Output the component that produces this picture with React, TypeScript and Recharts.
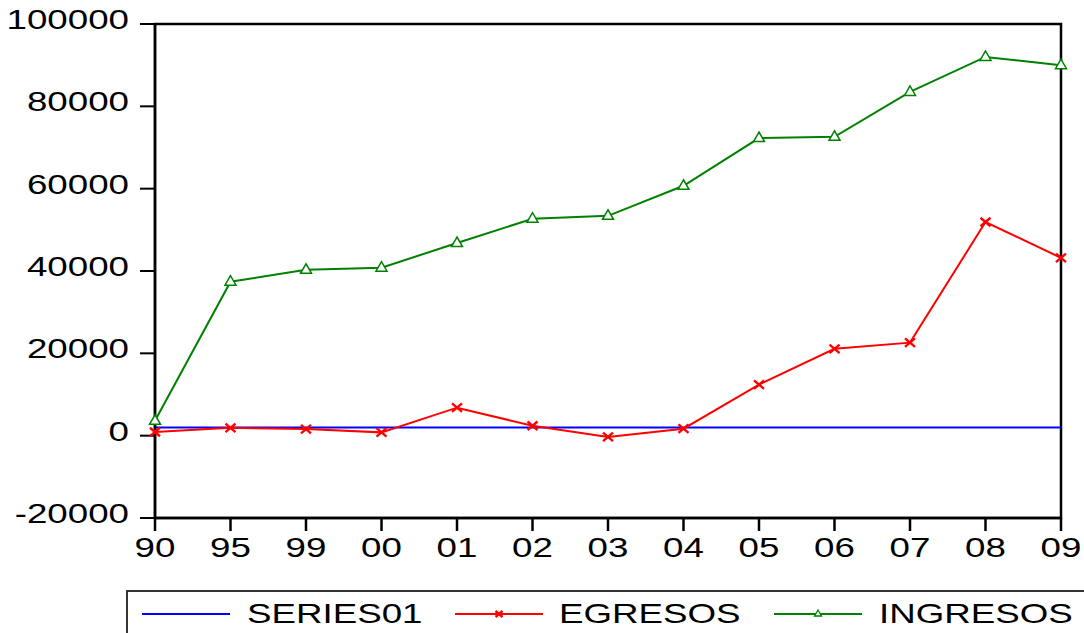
import React from 'react';
import { LineChart, Line, XAxis, YAxis, ReferenceArea } from 'recharts';

const categories = ['90', '95', '99', '00', '01', '02', '03', '04', '05', '06', '07', '08', '09'];
const series01 = [2000, 2000, 2000, 2000, 2000, 2000, 2000, 2000, 2000, 2000, 2000, 2000, 2000];
const egresos = [900, 1900, 1600, 800, 6800, 2400, -300, 1700, 12400, 21100, 22600, 51900, 43200];
const ingresos = [3600, 37400, 40300, 40800, 46800, 52700, 53400, 60700, 72300, 72600, 83500, 92000, 90000];
const yTicks = [-20000, 0, 20000, 40000, 60000, 80000, 100000];
const seriesNames = ['SERIES01', 'EGRESOS', 'INGRESOS'];

const data = categories.map((c, i) => ({
  cat: c,
  SERIES01: series01[i],
  EGRESOS: egresos[i],
  INGRESOS: ingresos[i],
}));

const FONT = '"Liberation Sans", Arial, sans-serif';
const SX = 1.36;
const FS = 27;

const XTick = (props: any) => {
  const { x, y, payload } = props;
  return (
    <text
      transform={`translate(${x},${y + 26}) scale(${SX},1)`}
      textAnchor="middle"
      fontFamily={FONT}
      fontSize={FS}
      fill="#000"
    >
      {payload.value}
    </text>
  );
};

const YTick = (props: any) => {
  const { x, y, payload } = props;
  return (
    <text
      transform={`translate(${x - 11},${y + 5}) scale(${SX},1)`}
      textAnchor="end"
      fontFamily={FONT}
      fontSize={FS}
      fill="#000"
    >
      {payload.value}
    </text>
  );
};

const CrossMark = ({ cx, cy, color, s = 5 }: any) => (
  <g>
    <line x1={cx - s} y1={cy - s * 0.85} x2={cx + s} y2={cy + s * 0.85} stroke={color} strokeWidth={2.4} />
    <line x1={cx - s} y1={cy + s * 0.85} x2={cx + s} y2={cy - s * 0.85} stroke={color} strokeWidth={2.4} />
  </g>
);

const TriMark = ({ cx, cy, color }: any) => (
  <polygon
    points={`${cx},${cy - 6} ${cx - 5.5},${cy + 3.5} ${cx + 5.5},${cy + 3.5}`}
    fill="#fff"
    stroke={color}
    strokeWidth={1.5}
  />
);

const crossDot = (props: any) => {
  const { cx, cy, index } = props;
  return <CrossMark key={`x-${index}`} cx={cx} cy={cy} color="#ff0000" />;
};
const triDot = (props: any) => {
  const { cx, cy, index } = props;
  return <TriMark key={`t-${index}`} cx={cx} cy={cy} color="#008000" />;
};

const LegendBox = () => {
  const items = [
    { name: seriesNames[0], color: '#0000ff', x0: 142, tx: 247, mark: null as any },
    { name: seriesNames[1], color: '#ff0000', x0: 455, tx: 559, mark: 'x' },
    { name: seriesNames[2], color: '#008000', x0: 774, tx: 879, mark: 't' },
  ];
  const ly = 614;
  return (
    <g>
      <rect x={127} y={591} width={1000} height={80} fill="#fff" stroke="#333" strokeWidth={2} />
      {items.map((it) => (
        <g key={it.name}>
          <line x1={it.x0} y1={ly} x2={it.x0 + 88} y2={ly} stroke={it.color} strokeWidth={2} />
          {it.mark === 'x' && <CrossMark cx={it.x0 + 44} cy={ly} color={it.color} s={3.5} />}
          {it.mark === 't' && (
            <polygon
              points={`${it.x0 + 44},${ly - 4} ${it.x0 + 40.5},${ly + 2} ${it.x0 + 47.5},${ly + 2}`}
              fill="#fff"
              stroke={it.color}
              strokeWidth={1.3}
            />
          )}
          <text
            transform={`translate(${it.tx},${ly + 9}) scale(${SX},1)`}
            textAnchor="start"
            fontFamily={FONT}
            fontSize={FS}
            fill="#000"
          >
            {it.name}
          </text>
        </g>
      ))}
    </g>
  );
};

export default function App() {
  return (
    <div style={{ position: 'absolute', left: 0, top: 0, width: 1084, height: 633, background: '#fff', overflow: 'hidden' }}>
      <LineChart
        width={1084}
        height={633}
        data={data}
        margin={{ top: 24, right: 23, bottom: 0, left: 0 }}
      >
        <XAxis
          dataKey="cat"
          height={115}
          tick={<XTick />}
          tickSize={13}
          tickMargin={0}
          axisLine={{ stroke: '#000', strokeWidth: 2.5 }}
          tickLine={{ stroke: '#000', strokeWidth: 2.5 }}
          interval={0}
        />
        <YAxis
          width={155}
          domain={[-20000, 100000]}
          ticks={yTicks}
          type="number"
          allowDataOverflow
          tick={<YTick />}
          tickSize={15}
          tickMargin={0}
          axisLine={{ stroke: '#000', strokeWidth: 2.5 }}
          tickLine={{ stroke: '#000', strokeWidth: 2 }}
        />
        <Line
          dataKey="SERIES01"
          stroke="#0000ff"
          strokeWidth={2}
          dot={false}
          isAnimationActive={false}
        />
        <Line
          dataKey="EGRESOS"
          stroke="#ff0000"
          strokeWidth={2}
          dot={crossDot}
          isAnimationActive={false}
        />
        <Line
          dataKey="INGRESOS"
          stroke="#008000"
          strokeWidth={2}
          dot={triDot}
          isAnimationActive={false}
        />
        <ReferenceArea
          x1={categories[0]}
          x2={categories[categories.length - 1]}
          y1={-20000}
          y2={100000}
          fill="none"
          fillOpacity={0}
          stroke="#000"
          strokeWidth={2.5}
          ifOverflow="visible"
        />
        <LegendBox />
      </LineChart>
    </div>
  );
}
